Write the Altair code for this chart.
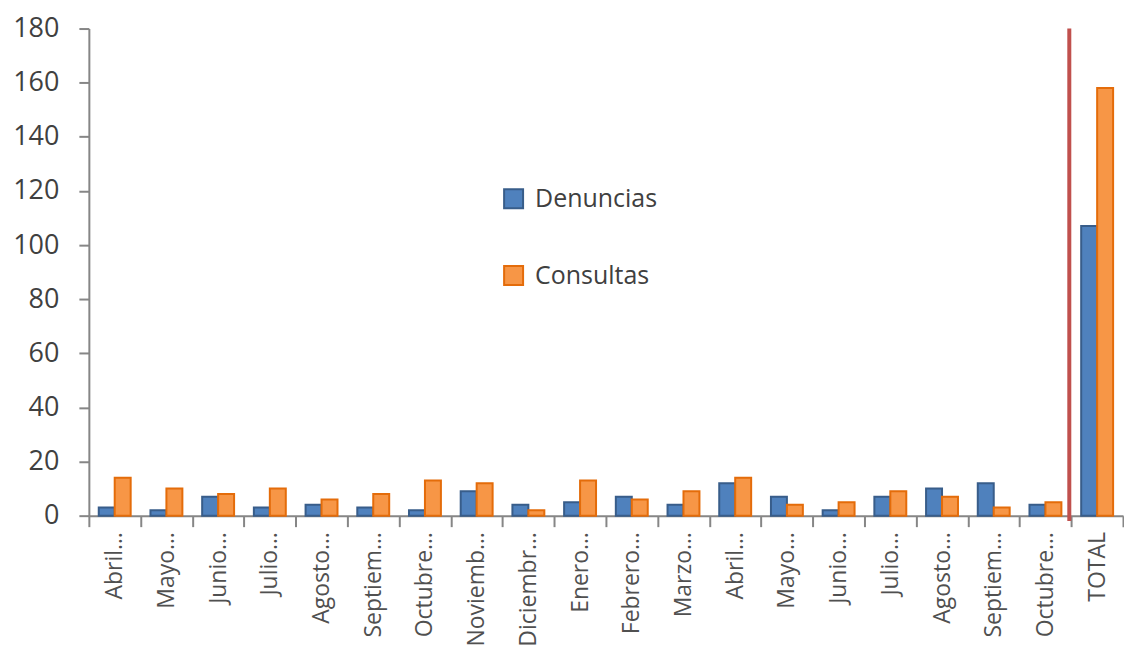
import altair as alt
import pandas as pd

labels = ["Abril…", "Mayo…", "Junio…", "Julio…", "Agosto…", "Septiem…", "Octubre…",
          "Noviemb…", "Diciembr…", "Enero…", "Febrero…", "Marzo…", "Abril…", "Mayo…",
          "Junio…", "Julio…", "Agosto…", "Septiem…", "Octubre…", "TOTAL"]
denuncias = [3, 2, 7, 3, 4, 3, 2, 9, 4, 5, 7, 4, 12, 7, 2, 7, 10, 12, 4, 107]
consultas = [14, 10, 8, 10, 6, 8, 13, 12, 2, 13, 6, 9, 14, 4, 5, 9, 7, 3, 5, 158]
series = ["Denuncias", "Consultas"]
fills = ["#4F81BD", "#F79646"]
strokes = ["#385D8A", "#E46C0A"]

# separator line drawn before the TOTAL category
sep_index = [19]
sep_top = [180]
sep_bottom = [-2]

rows = []
for i, lab in enumerate(labels):
    rows.append({"idx": i, "mes": lab, "serie": series[0], "valor": denuncias[i]})
    rows.append({"idx": i, "mes": lab, "serie": series[1], "valor": consultas[i]})
df = pd.DataFrame(rows)

sep_df = pd.DataFrame({"idx": sep_index, "top": sep_top, "bottom": sep_bottom})

label_expr = "[" + ",".join("'" + l + "'" for l in labels) + "][datum.value]"

font = "Open Sans"

x_enc = alt.X("idx:O",
              scale=alt.Scale(paddingInner=0, paddingOuter=0),
              axis=alt.Axis(title=None, labelExpr=label_expr, labelAngle=270,
                            labelAlign="right", labelBaseline="middle",
                            labelFontSize=23, labelColor="#505050", labelFont=font,
                            labelPadding=5, tickBand="extent", tickSize=11,
                            tickColor="#868686", tickWidth=2,
                            domainColor="#868686", domainWidth=2))

bars = alt.Chart(df).mark_bar(strokeWidth=2).encode(
    x=x_enc,
    xOffset=alt.XOffset("serie:N", sort=series,
                        scale=alt.Scale(domain=series, paddingOuter=0.62, paddingInner=0)),
    y=alt.Y("valor:Q",
            scale=alt.Scale(domain=[0, 180], nice=False),
            axis=alt.Axis(title=None, values=list(range(0, 181, 20)), grid=False,
                          labelFontSize=27, labelColor="#404040", labelFont=font,
                          tickSize=10, tickColor="#868686", tickWidth=2,
                          labelPadding=20,
                          domainColor="#868686", domainWidth=2)),
    fill=alt.Fill("serie:N", sort=series,
                  scale=alt.Scale(domain=series, range=fills), title=None),
    stroke=alt.Stroke("serie:N", sort=series,
                      scale=alt.Scale(domain=series, range=strokes), title=None),
)

sep = alt.Chart(sep_df).mark_rule(color="#C0504D", strokeWidth=4, xOffset=-2).encode(
    x=alt.X("idx:O", bandPosition=0),
    y=alt.Y("top:Q"),
    y2=alt.Y2("bottom:Q"),
)

chart = alt.layer(bars, sep).properties(
    width=1036, height=488, padding={"left": 4, "top": 6, "right": 0, "bottom": 0}
).configure_view(stroke=None).configure_legend(
    orient="none", legendX=413, legendY=158, direction="vertical",
    symbolType="square", symbolSize=361, symbolStrokeWidth=2,
    labelFontSize=25, labelFont=font, labelColor="#404040",
    rowPadding=50, labelOffset=9
)

chart.save("out.html", embed_options={"renderer": "svg", "actions": False})
